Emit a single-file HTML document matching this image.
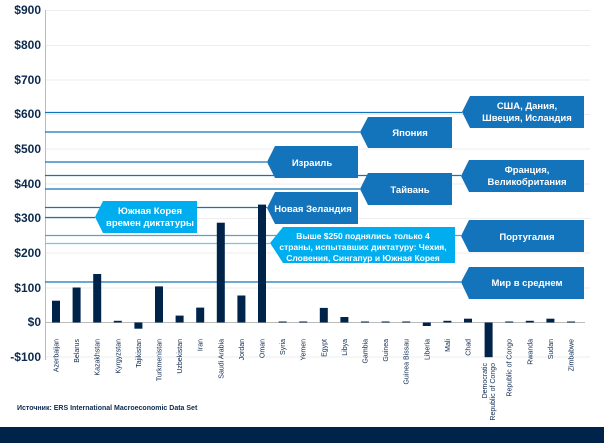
<!DOCTYPE html><html><head><meta charset="utf-8"><style>body{margin:0;background:#fff}svg{display:block}</style></head><body>
<svg width="604" height="443" xmlns="http://www.w3.org/2000/svg" font-family="Liberation Sans, sans-serif">
<g stroke="#eeeeee" stroke-width="1">
<line x1="45" x2="590" y1="10.5" y2="10.5"/><line x1="45" x2="590" y1="45.5" y2="45.5"/><line x1="45" x2="590" y1="80" y2="80"/><line x1="45" x2="590" y1="114.5" y2="114.5"/><line x1="45" x2="590" y1="149" y2="149"/><line x1="45" x2="590" y1="184" y2="184"/><line x1="45" x2="590" y1="218.5" y2="218.5"/><line x1="45" x2="590" y1="253" y2="253"/><line x1="45" x2="590" y1="288" y2="288"/><line x1="45" x2="590" y1="357" y2="357"/>
</g>
<line x1="45.5" x2="45.5" y1="10" y2="360" stroke="#bbb"/>
<line x1="45" x2="585" y1="322.5" y2="322.5" stroke="#bbb"/>
<g font-size="12" font-weight="bold" fill="#0d2a4e" text-anchor="end">
<text x="41" y="14">$900</text><text x="41" y="49">$800</text><text x="41" y="84">$700</text><text x="41" y="118">$600</text><text x="41" y="153">$500</text><text x="41" y="188">$400</text><text x="41" y="222">$300</text><text x="41" y="257">$200</text><text x="41" y="292">$100</text><text x="41" y="326">$0</text><text x="41" y="361">-$100</text>
</g>
<g stroke-width="1.3">
<line x1="45" x2="462" y1="112.5" y2="112.5" stroke="#1474bb"/>
<line x1="45" x2="360" y1="132" y2="132" stroke="#1474bb"/>
<line x1="45" x2="267" y1="162" y2="162" stroke="#1474bb"/>
<line x1="45" x2="461" y1="175.5" y2="175.5" stroke="#1474bb"/>
<line x1="45" x2="360" y1="189" y2="189" stroke="#1474bb"/>
<line x1="45" x2="267" y1="207.5" y2="207.5" stroke="#1474bb"/>
<line x1="45" x2="95" y1="217.5" y2="217.5" stroke="#1474bb"/>
<line x1="45" x2="461" y1="235.5" y2="235.5" stroke="#5a9fd4"/>
<line x1="45" x2="270" y1="243.5" y2="243.5" stroke="#6cc6f0"/>
<line x1="45" x2="461" y1="282" y2="282" stroke="#1474bb"/>
</g>
<g fill="#00234a">
<rect x="52" y="300.7" width="8" height="21.8"/>
<rect x="72.6" y="287.5" width="8" height="35"/>
<rect x="93.2" y="274" width="8" height="48.5"/>
<rect x="113.8" y="320.8" width="8" height="1.7"/>
<rect x="134.4" y="322.5" width="8" height="6.2"/>
<rect x="155" y="286.4" width="8" height="36.1"/>
<rect x="175.6" y="315.6" width="8" height="6.9"/>
<rect x="196.2" y="307.6" width="8" height="14.9"/>
<rect x="216.8" y="222.7" width="8" height="99.8"/>
<rect x="237.4" y="295.5" width="8" height="27"/>
<rect x="258" y="204.6" width="8" height="117.9"/>
<rect x="278.6" y="321.5" width="8" height="1"/>
<rect x="299.2" y="321.5" width="8" height="1"/>
<rect x="319.8" y="307.9" width="8" height="14.6"/>
<rect x="340.4" y="317" width="8" height="5.5"/>
<rect x="361" y="321.5" width="8" height="1"/>
<rect x="381.6" y="321.5" width="8" height="1"/>
<rect x="402.2" y="321.5" width="8" height="1"/>
<rect x="422.8" y="322.5" width="8" height="3.5"/>
<rect x="443.4" y="320.8" width="8" height="1.7"/>
<rect x="464" y="318.7" width="8" height="3.8"/>
<rect x="484.6" y="322.5" width="8" height="34.7"/>
<rect x="505.2" y="321.5" width="8" height="1"/>
<rect x="525.8" y="320.8" width="8" height="1.7"/>
<rect x="546.4" y="318.7" width="8" height="3.8"/>
<rect x="567" y="321.5" width="8" height="1"/>
</g>
<g font-size="9.5" font-weight="bold" fill="#fff" text-anchor="middle">
<polygon points="462,112 470,96 584,96 584,128 470,128" fill="#1474bb"/><text x="527" y="109">США, Дания,</text><text x="527" y="121">Швеция, Исландия</text>
<polygon points="360,132 368,117 452,117 452,148 368,148" fill="#1474bb"/><text x="410" y="136">Япония</text>
<polygon points="267,162 275,146 358,146 358,178 275,178" fill="#1474bb"/><text x="312" y="166">Израиль</text>
<polygon points="461,176 469,160 584,160 584,192 469,192" fill="#1474bb"/><text x="527" y="173">Франция,</text><text x="527" y="185">Великобритания</text>
<polygon points="360,189 368,173 452,173 452,205 368,205" fill="#1474bb"/><text x="410" y="193">Тайвань</text>
<polygon points="267,208 275,192 358,192 358,224 275,224" fill="#1474bb"/><text x="313" y="212">Новая Зеландия</text>
<polygon points="95,217 103,201 197,201 197,233 103,233" fill="#00aeef"/><text x="150" y="214">Южная Корея</text><text x="150" y="226">времен диктатуры</text>
<polygon points="461,236 469,220 584,220 584,252 469,252" fill="#1474bb"/><text x="527" y="240">Португалия</text>
<polygon points="270,243 283,227 455,227 455,263 283,263" fill="#00aeef"/><text x="363" y="239" font-size="8.5">Выше $250 поднялись только 4</text><text x="363" y="250" font-size="8.5">страны, испытавших диктатуру: Чехия,</text><text x="363" y="261" font-size="8.5">Словения, Сингапур и Южная Корея</text>
<polygon points="461,282 469,267 584,267 584,299 469,299" fill="#1474bb"/><text x="527" y="286">Мир в среднем</text>
</g>
<g font-size="7" fill="#0d2a4e" text-anchor="end">
<text transform="translate(58.5,339) rotate(-90)">Azerbaijan</text>
<text transform="translate(79.1,339) rotate(-90)">Belarus</text>
<text transform="translate(99.7,339) rotate(-90)">Kazakhstan</text>
<text transform="translate(120.3,339) rotate(-90)">Kyrgyzstan</text>
<text transform="translate(140.9,339) rotate(-90)">Tajikistan</text>
<text transform="translate(161.5,339) rotate(-90)">Turkmenistan</text>
<text transform="translate(182.1,339) rotate(-90)">Uzbekistan</text>
<text transform="translate(202.7,339) rotate(-90)">Iran</text>
<text transform="translate(223.3,339) rotate(-90)">Saudi Arabia</text>
<text transform="translate(243.9,339) rotate(-90)">Jordan</text>
<text transform="translate(264.5,339) rotate(-90)">Oman</text>
<text transform="translate(285.1,339) rotate(-90)">Syria</text>
<text transform="translate(305.7,339) rotate(-90)">Yemen</text>
<text transform="translate(326.3,339) rotate(-90)">Egypt</text>
<text transform="translate(346.9,339) rotate(-90)">Libya</text>
<text transform="translate(367.5,339) rotate(-90)">Gambia</text>
<text transform="translate(388.1,339) rotate(-90)">Guinea</text>
<text transform="translate(408.7,339) rotate(-90)">Guinea Bissau</text>
<text transform="translate(429.3,339) rotate(-90)">Liberia</text>
<text transform="translate(449.9,339) rotate(-90)">Mali</text>
<text transform="translate(470.5,339) rotate(-90)">Chad</text>
<text transform="translate(487.1,363) rotate(-90)">Democratic</text>
<text transform="translate(495.1,363) rotate(-90)">Republic of Congo</text>
<text transform="translate(511.7,339) rotate(-90)">Republic of Congo</text>
<text transform="translate(532.3,339) rotate(-90)">Rwanda</text>
<text transform="translate(552.9,339) rotate(-90)">Sudan</text>
<text transform="translate(573.5,339) rotate(-90)">Zimbabwe</text>
</g>
<text x="17" y="410" font-size="7" font-weight="bold" fill="#0d2a4e">Источник: ERS International Macroeconomic Data Set</text>
<rect x="0" y="427" width="604" height="16" fill="#00234a"/>
</svg></body></html>
